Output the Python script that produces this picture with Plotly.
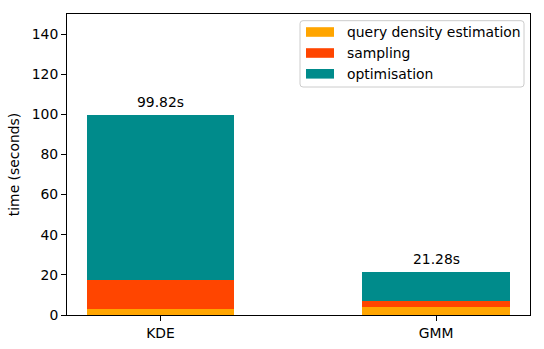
import plotly.graph_objects as go

categories = ["KDE", "GMM"]
series_names = ["query density estimation", "sampling", "optimisation"]
series_colors = ["#FFA500", "#FF4500", "#008B8B"]
query_density = [3.0, 3.9]
sampling = [14.5, 2.9]
totals = [99.82, 21.28]
optimisation = [t - q - s for t, q, s in zip(totals, query_density, sampling)]
total_labels = ["99.82s", "21.28s"]
y_ticks = [0, 20, 40, 60, 80, 100, 120, 140]

W, H = 544, 349
ML, MR, MT, MB = 67, 14, 14, 34
PW, PH = W - ML - MR, H - MT - MB

def px_x(px):
    return (px - ML) / PW

def px_y(py):
    return (H - MB - py) / PH

x_pos = [0, 1]
bar_w = 0.534
font = dict(family="DejaVu Sans", size=13.9, color="#000000")

fig = go.Figure()
for name, color, vals in zip(series_names, series_colors, [query_density, sampling, optimisation]):
    fig.add_trace(go.Bar(x=x_pos, y=vals, width=bar_w, name=name, showlegend=False,
                         hoverinfo="skip",
                         marker=dict(color=color, line=dict(width=0))))

for xp, t, lab in zip(x_pos, totals, total_labels):
    fig.add_annotation(x=xp, y=t, text=lab, showarrow=False, yanchor="bottom",
                       yshift=3, font=font)

# manual matplotlib-style legend
x0, x1, y0, y1, r = 300, 524, 20.7, 87, 3
path = (f"M {px_x(x0 + r)},{px_y(y0)} L {px_x(x1 - r)},{px_y(y0)} "
        f"Q {px_x(x1)},{px_y(y0)} {px_x(x1)},{px_y(y0 + r)} "
        f"L {px_x(x1)},{px_y(y1 - r)} Q {px_x(x1)},{px_y(y1)} {px_x(x1 - r)},{px_y(y1)} "
        f"L {px_x(x0 + r)},{px_y(y1)} Q {px_x(x0)},{px_y(y1)} {px_x(x0)},{px_y(y1 - r)} "
        f"L {px_x(x0)},{px_y(y0 + r)} Q {px_x(x0)},{px_y(y0)} {px_x(x0 + r)},{px_y(y0)} Z")
fig.add_shape(type="path", path=path, xref="paper", yref="paper",
              fillcolor="rgba(255,255,255,0.8)", line=dict(color="#cccccc", width=1))
row_centers = [32, 53, 73.8]
for name, color, cy in zip(series_names, series_colors, row_centers):
    fig.add_shape(type="rect", xref="paper", yref="paper",
                  x0=px_x(306), x1=px_x(334), y0=px_y(cy - 4.8), y1=px_y(cy + 4.8),
                  fillcolor=color, line=dict(width=0))
    fig.add_annotation(xref="paper", yref="paper", x=px_x(345), y=px_y(cy), text=name,
                       showarrow=False, xanchor="left", yanchor="middle", font=font)

fig.update_layout(
    width=W, height=H,
    margin=dict(l=ML, r=MR, t=MT, b=MB, autoexpand=False),
    barmode="stack",
    bargap=0,
    plot_bgcolor="white", paper_bgcolor="white",
    font=font,
    showlegend=False,
    hovermode=False,
    xaxis=dict(range=[-0.339, 1.341], tickmode="array", tickvals=x_pos, ticktext=categories,
               showline=True, linecolor="black", linewidth=1, mirror=True,
               ticks="outside", ticklen=5, tickcolor="black", showgrid=False, zeroline=False,
               tickfont=font, automargin=False),
    yaxis=dict(range=[0, 150], tickmode="array", tickvals=y_ticks,
               showline=True, linecolor="black", linewidth=1, mirror=True,
               ticks="outside", ticklen=5, tickcolor="black", showgrid=False, zeroline=False,
               title=dict(text="time (seconds)", font=font, standoff=8), tickfont=font,
               automargin=False),
)

fig.write_html("out.html", config={"displayModeBar": False},
               post_script="document.body.style.margin='0';")
